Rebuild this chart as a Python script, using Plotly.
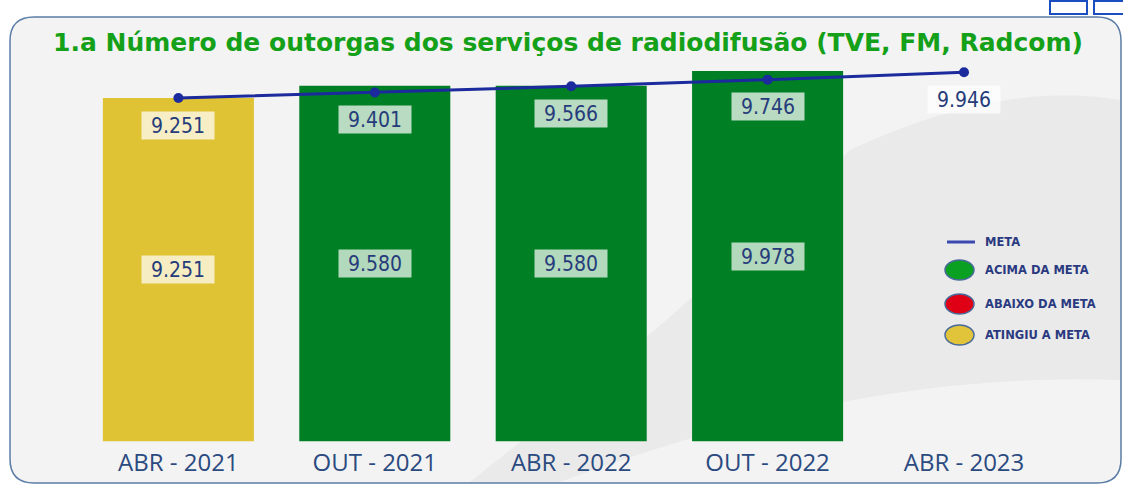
import plotly.graph_objects as go

# ---- data ----
categories = ["ABR - 2021", "OUT - 2021", "ABR - 2022", "OUT - 2022", "ABR - 2023"]
bar_cats = ["ABR - 2021", "OUT - 2021", "ABR - 2022", "OUT - 2022"]
bar_values = [9251, 9580, 9580, 9978]
bar_status = ["ATINGIU A META", "ACIMA DA META", "ACIMA DA META", "ACIMA DA META"]
meta_values = [9251, 9401, 9566, 9746, 9946]
title_text = "1.a Número de outorgas dos serviços de radiodifusão (TVE, FM, Radcom)"
legend_items = ["META", "ACIMA DA META", "ABAIXO DA META", "ATINGIU A META"]

W, H = 1123, 485
status_colors = {"ACIMA DA META": "#007f24", "ABAIXO DA META": "#e00016", "ATINGIU A META": "#e0c235"}
legend_fill = {"ACIMA DA META": "#0aa022", "ABAIXO DA META": "#e00016", "ATINGIU A META": "#e2c43a"}
LINE_C = "#1b2a9c"
TXT_C = "#263c7a"
LABEL_FONT = "DejaVu Sans Condensed, Liberation Sans Narrow, sans-serif"


def fmt(v):
    return f"{v:,}".replace(",", ".")


def px(x):
    return x / W


def py(y):
    return 1 - y / H


def rounded_path(x0, y0, x1, y1, r):
    pts = [
        f"M {px(x0 + r)} {py(y0)}",
        f"L {px(x1 - r)} {py(y0)}",
        f"Q {px(x1)} {py(y0)} {px(x1)} {py(y0 + r)}",
        f"L {px(x1)} {py(y1 - r)}",
        f"Q {px(x1)} {py(y1)} {px(x1 - r)} {py(y1)}",
        f"L {px(x0 + r)} {py(y1)}",
        f"Q {px(x0)} {py(y1)} {px(x0)} {py(y1 - r)}",
        f"L {px(x0)} {py(y0 + r)}",
        f"Q {px(x0)} {py(y0)} {px(x0 + r)} {py(y0)}",
        "Z",
    ]
    return " ".join(pts)


fig = go.Figure()

fig.add_trace(go.Bar(
    x=bar_cats, y=bar_values,
    marker=dict(color=[status_colors[s] for s in bar_status], line=dict(width=0)),
    showlegend=False, hoverinfo="x+y",
))

fig.add_trace(go.Scatter(
    x=categories, y=meta_values, mode="lines+markers",
    line=dict(color=LINE_C, width=3),
    marker=dict(color=LINE_C, size=10),
    showlegend=False,
))

annotations = []
# values inside bars
for c, v in zip(bar_cats, bar_values):
    annotations.append(dict(
        x=c, y=v / 2, xref="x", yref="y", text=fmt(v), showarrow=False,
        font=dict(family=LABEL_FONT, size=21, color=TXT_C),
        bgcolor="rgba(255,255,255,0.70)", width=70, height=25, borderpad=1,
    ))
# meta labels
for c, v in zip(categories, meta_values):
    annotations.append(dict(
        x=c, y=v, xref="x", yref="y", yshift=-27, text=fmt(v), showarrow=False,
        font=dict(family=LABEL_FONT, size=21, color=TXT_C),
        bgcolor="rgba(255,255,255,0.72)", width=70, height=25, borderpad=1,
    ))

# title
annotations.append(dict(
    x=px(568), y=py(42), xref="paper", yref="paper", text="<b>" + title_text + "</b>",
    showarrow=False, xanchor="center", yanchor="middle",
    font=dict(family="DejaVu Sans", size=25, color="#14a018"),
))

# legend texts
legend_y = [242, 270, 304, 335]
for t, yy in zip(legend_items, legend_y):
    annotations.append(dict(
        x=px(983), y=py(yy), xref="paper", yref="paper", text="<b>" + t + "</b>",
        showarrow=False, xanchor="left", yanchor="middle",
        font=dict(family="DejaVu Sans", size=11.5, color="#2a3a80"),
    ))

shapes = [
    # panel
    dict(type="path", path=rounded_path(10, 17, 1121, 483, 24), xref="paper", yref="paper",
         fillcolor="#f3f3f3", line=dict(color="#5a7ca6", width=1.5), layer="below"),
    # faint watermark swoosh
    dict(type="path", xref="paper", yref="paper", layer="below", line=dict(width=0),
         fillcolor="rgba(220,220,220,0.4)",
         path=f"M {px(850)} {py(150)} Q {px(1000)} {py(80)} {px(1120)} {py(100)} L {px(1120)} {py(380)} Q {px(860)} {py(370)} {px(560)} {py(482)} L {px(470)} {py(482)} Q {px(700)} {py(300)} {px(850)} {py(150)} Z"),
    # legend line
    dict(type="line", xref="paper", yref="paper", x0=px(947), x1=px(975), y0=py(242), y1=py(242),
         line=dict(color="#3a48b0", width=3)),
    # top-right small boxes
    dict(type="rect", xref="paper", yref="paper", x0=px(1050), x1=px(1087), y0=py(14), y1=py(1),
         line=dict(color="#1a4ec0", width=2), fillcolor="white"),
    dict(type="rect", xref="paper", yref="paper", x0=px(1094), x1=px(1124), y0=py(14), y1=py(1),
         line=dict(color="#1a4ec0", width=2), fillcolor="white"),
]
for t, yy in zip(legend_items[1:], legend_y[1:]):
    shapes.append(dict(type="circle", xref="paper", yref="paper",
                       x0=px(945), x1=px(974), y0=py(yy + 10), y1=py(yy - 10),
                       fillcolor=legend_fill[t], line=dict(color="#4a6a9a", width=1.5)))

fig.update_layout(
    width=W, height=H,
    margin=dict(l=0, r=0, t=0, b=0),
    paper_bgcolor="white", plot_bgcolor="rgba(0,0,0,0)",
    bargap=0.231,
    showlegend=False,
    xaxis=dict(domain=[px(80.2), px(1062.2)], range=[-0.5, 4.5], type="category",
               categoryorder="array", categoryarray=categories,
               showgrid=False, zeroline=False, showline=False, ticks="",
               ticklabelstandoff=4,
               tickfont=dict(family="Open Sans", size=24, color="#2b4a80")),
    yaxis=dict(domain=[py(441.5), py(60)], range=[0, 10275], visible=False, showgrid=False, zeroline=False),
    annotations=annotations,
    shapes=shapes,
)

fig.write_html("out.html", config={"displayModeBar": False},
               post_script="document.body.style.margin='0';document.body.style.overflow='hidden';")
